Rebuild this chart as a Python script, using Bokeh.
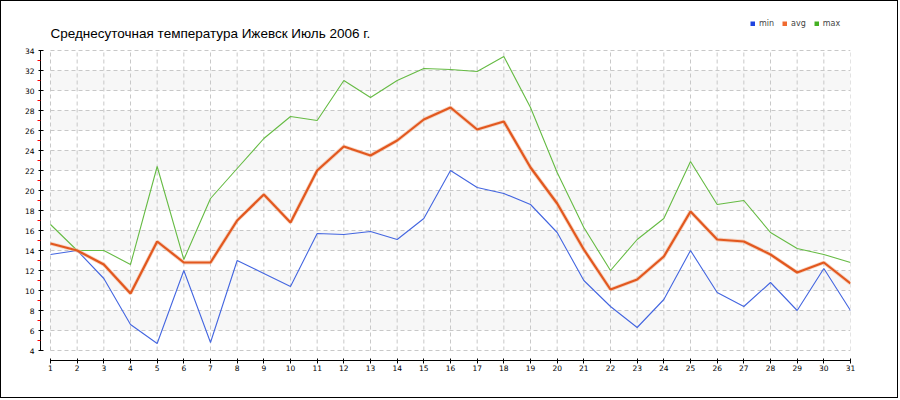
from bokeh.plotting import figure
from bokeh.models import Range1d, FixedTicker, Legend, LegendItem, Label
from bokeh.embed import file_html
from bokeh.resources import INLINE

# ---- data ----
days = list(range(1, 32))
t_min = [13.6, 14.0, 11.2, 6.6, 4.7, 12.0, 4.8, 13.0, 11.7, 10.4, 15.7, 15.6, 15.9, 15.1, 17.2, 22.0,
         20.3, 19.7, 18.6, 15.8, 11.0, 8.4, 6.3, 9.1, 14.0, 9.8, 8.4, 10.8, 8.0, 12.2, 8.0]
t_avg = [14.7, 14.0, 12.6, 9.7, 14.9, 12.8, 12.8, 17.0, 19.6, 16.8, 22.0, 24.4, 23.5, 25.0, 27.1, 28.3,
         26.1, 26.9, 22.3, 18.7, 14.1, 10.1, 11.1, 13.4, 17.9, 15.1, 14.9, 13.6, 11.8, 12.8, 10.7]
t_max = [16.6, 14.0, 14.0, 12.6, 22.4, 13.1, 19.2, 22.2, 25.2, 27.4, 27.0, 31.0, 29.3, 31.0, 32.2, 32.1,
         31.9, 33.4, 28.3, 21.8, 16.3, 12.0, 15.1, 17.2, 22.9, 18.6, 19.0, 15.8, 14.2, 13.6, 12.8]
y_ticks = list(range(4, 35, 2))
series_names = ["min", "avg", "max"]
title_text = "Среднесуточная температура Ижевск  Июль 2006 г."

line_colors = ["#4466e0", "#e2581f", "#66bb44"]
legend_colors = ["#1f44e0", "#f06a30", "#44b022"]

x0, x1 = days[0], days[-1]
y0, y1 = y_ticks[0], y_ticks[-1]

# figure is 898x398 plus a 1px CSS border -> 900x400 on the page.
# The frame reaches the top so that title & legend can live inside it.
p = figure(width=898, height=398, output_backend="svg", toolbar_location=None,
           x_range=Range1d(x0 - 10 / (800 / 30), x1), y_range=Range1d(y0 - 1, y1 + 4.9),
           min_border_left=39, min_border_right=49, min_border_top=0, min_border_bottom=39)
p.outline_line_color = None
p.background_fill_color = "white"
p.border_fill_color = "white"
p.styles = {"border": "1px solid black"}
p.xgrid.visible = False
p.ygrid.visible = False

# title (screen units relative to frame, y measured from frame bottom)
p.add_layout(Label(x=10, y=359 - 32, x_units="screen", y_units="screen", text=title_text,
                   text_font="Liberation Sans", text_font_size="13.5px", text_color="#000000",
                   text_baseline="alphabetic", text_align="left"))

# alternating bands
band_bottoms = [t for t in y_ticks[1:-1:2]]
p.quad(left=x0, right=x1, bottom=band_bottoms, top=[b + 2 for b in band_bottoms],
       fill_color="#f7f7f7", line_color=None)

# dashed grid
p.segment(x0=days, y0=y0, x1=days, y1=y1, line_color="#c8c8c8", line_dash="4 3", line_width=1)
p.segment(x0=x0, y0=y_ticks, x1=x1, y1=y_ticks, line_color="#c8c8c8", line_dash="4 3", line_width=1)

# series
p.line(days, t_min, line_color=line_colors[0], line_width=1.1)
p.line(days, t_max, line_color=line_colors[2], line_width=1.1)
p.line(days, t_avg, line_color="#f4b898", line_width=3.8, line_alpha=0.6)
p.line(days, t_avg, line_color=line_colors[1], line_width=2.2)

# axes
for ax in (p.xaxis[0], p.yaxis[0]):
    ax.axis_line_color = "black"
    ax.major_tick_line_color = "black"
    ax.major_label_text_font = "DejaVu Sans"
    ax.major_label_text_font_size = "7.5px"
    ax.major_label_text_color = "#000000"

xa = p.xaxis[0]
xa.ticker = FixedTicker(ticks=days)
xa.bounds = (x0, x1)
xa.major_tick_in = 2
xa.major_tick_out = 3
xa.minor_tick_line_color = None
xa.major_label_standoff = 1

ya = p.yaxis[0]
ya.ticker = FixedTicker(ticks=y_ticks, minor_ticks=[t + 1 for t in y_ticks[:-1]])
ya.bounds = (y0, y1)
ya.major_tick_in = 3
ya.major_tick_out = 2
ya.minor_tick_in = 0
ya.minor_tick_out = 3
ya.minor_tick_line_color = "red"
ya.major_label_standoff = 3

# legend (dummy renderers hold a single NaN point so that their swatch is drawn)
nan = float("nan")
dummies = [p.line([nan], [nan], line_color=c, line_width=5) for c in legend_colors]
legend = Legend(items=[LegendItem(label=n, renderers=[r]) for n, r in zip(series_names, dummies)],
                orientation="horizontal", location=(710, 359 - 27),
                glyph_width=5, glyph_height=5, label_standoff=4, spacing=8, label_width=0,
                label_height=0, padding=0, margin=0,
                label_text_font="DejaVu Sans", label_text_font_size="8px",
                border_line_color=None, background_fill_alpha=0)
p.add_layout(legend)

open("out.html", "w").write(file_html(p, INLINE))
